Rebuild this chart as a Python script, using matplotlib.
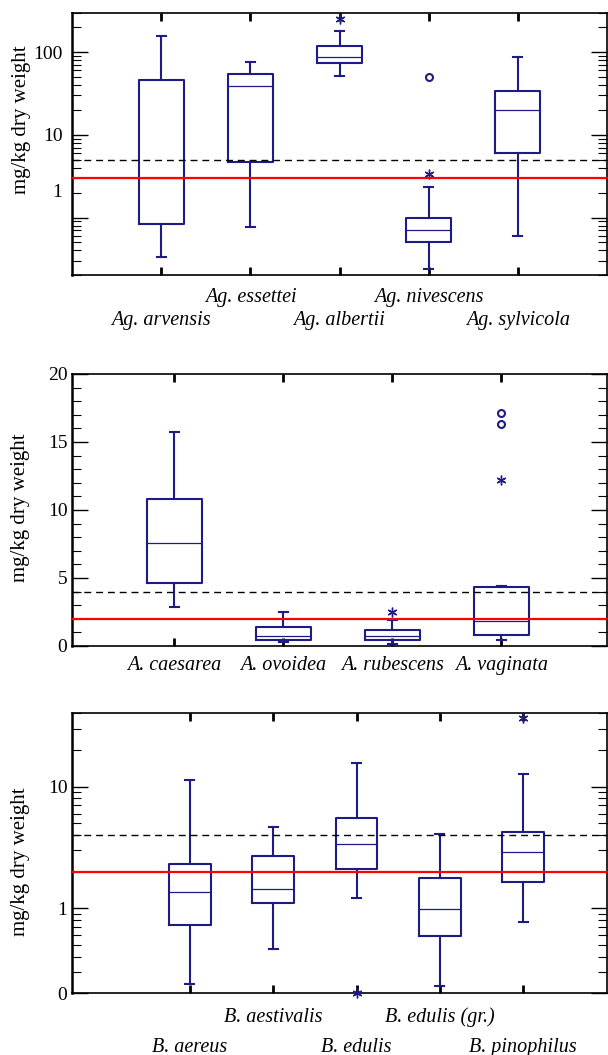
import numpy as np
import matplotlib
matplotlib.use('Agg')
import matplotlib.pyplot as plt
from matplotlib.ticker import FixedLocator, LogLocator, NullFormatter, MultipleLocator

plt.rcParams['font.family'] = ['Liberation Serif', 'DejaVu Serif']

# Agaricus
ag_names = ['Ag. arvensis', 'Ag. essettei', 'Ag. albertii', 'Ag. nivescens', 'Ag. sylvicola']
ag_whislo = [0.33, 0.76, 52, 0.24, 0.59]
ag_q1 = [0.83, 4.7, 73, 0.50, 6.1]
ag_med = [3.0, 39.5, 88, 0.70, 19.8]
ag_q3 = [46.6, 55, 119, 0.99, 33.5]
ag_whishi = [158, 75, 181, 2.33, 87]
ag_star = [[], [], [249], [3.4], []]
ag_circ = [[], [], [], [50], []]
ag_limit = 3.0
ag_dashed = 5.0

# Amanita
am_names = ['A. caesarea', 'A. ovoidea', 'A. rubescens', 'A. vaginata']
am_whislo = [2.84, 0.32, 0.17, 0.42]
am_q1 = [4.63, 0.44, 0.44, 0.79]
am_med = [7.55, 0.71, 0.76, 1.82]
am_q3 = [10.78, 1.37, 1.15, 4.36]
am_whishi = [15.7, 2.5, 1.91, 4.43]
am_star = [[], [], [2.52], [12.2]]
am_circ = [[], [], [], [16.3, 17.1]]
am_limit = 2.0
am_dashed = 4.0

# Boletus
bo_names = ['B. aereus', 'B. aestivalis', 'B. edulis', 'B. edulis (gr.)', 'B. pinophilus']
bo_whislo = [0.24, 0.46, 1.21, 0.23, 0.77]
bo_q1 = [0.73, 1.10, 2.09, 0.59, 1.63]
bo_med = [1.35, 1.43, 3.35, 0.98, 2.91]
bo_q3 = [2.32, 2.67, 5.5, 1.78, 4.25]
bo_whishi = [11.3, 4.61, 15.7, 4.09, 12.8]
bo_star = [[], [], [0.2], [], [36.8]]
bo_circ = [[], [], [], [], []]
bo_limit = 2.0
bo_dashed = 4.0

NAVY = '#1c1c84'
W, H = 608, 1055
fig = plt.figure(figsize=(W / 100, H / 100), dpi=100)


def px_axes(left, top, right, bottom):
    return fig.add_axes([left / W, 1 - bottom / H, (right - left) / W, (bottom - top) / H])


def draw_panel(ax, names, whislo, q1, med, q3, whishi, star, circ, limit, dashed, capw):
    pos = np.arange(1, len(names) + 1)
    stats = []
    for i in range(len(names)):
        stats.append(dict(med=med[i], q1=q1[i], q3=q3[i], whislo=whislo[i],
                          whishi=whishi[i], fliers=[]))
    ax.bxp(stats, positions=pos, widths=0.5, capwidths=capw, showfliers=False,
           boxprops=dict(color=NAVY, lw=1.5),
           whiskerprops=dict(color=NAVY, lw=1.5),
           capprops=dict(color=NAVY, lw=1.5),
           medianprops=dict(color=NAVY, lw=0.9))
    for p, vals in zip(pos, star):
        if vals:
            ax.plot([p] * len(vals), vals, linestyle='none', marker=(6, 2, 0), ms=7,
                    mec=NAVY, mew=1.0, clip_on=False, zorder=5)
    for p, vals in zip(pos, circ):
        if vals:
            ax.plot([p] * len(vals), vals, linestyle='none', marker='o', ms=5,
                    mfc='none', mec=NAVY, mew=1.5, clip_on=False, zorder=5)
    ax.axhline(dashed, color='black', lw=1.0, dashes=(5, 3.5), zorder=6)
    ax.axhline(limit, color='#ff0000', lw=1.6, zorder=7)
    ax.set_xticks(pos)
    ax.set_xticklabels([])
    ax.tick_params(axis='x', direction='in', top=True, bottom=True, length=6, width=2.0)
    ax.tick_params(axis='y', which='major', direction='in', left=True, right=True,
                   length=11.5, width=1.0, labelsize=14)
    ax.tick_params(axis='y', which='minor', direction='in', left=True, right=True,
                   length=6.2, width=0.8)
    for side in ['top', 'right', 'bottom']:
        ax.spines[side].set_linewidth(1.2)
    ax.spines['left'].set_linewidth(1.8)
    return pos


def cat_labels(ax, pos, names, offsets):
    for p, n, off in zip(pos, names, offsets):
        ax.annotate(n, xy=(p, 0), xycoords=('data', 'axes fraction'), xytext=(0, -off),
                    textcoords='offset pixels', ha='center', va='baseline',
                    fontsize=14.5, style='italic', annotation_clip=False)


# Panel 1: Agaricus (log)
ax1 = px_axes(72.3, 12.7, 606.7, 275.3)
ax1.set_yscale('log')
p1 = draw_panel(ax1, ag_names, ag_whislo, ag_q1, ag_med, ag_q3, ag_whishi,
                ag_star, ag_circ, ag_limit, ag_dashed, 0.1)
ax1.set_xlim(0, 6)
ax1.set_ylim(0.2, 300)
ax1.yaxis.set_major_locator(FixedLocator([1, 10, 100]))
ax1.yaxis.set_minor_locator(LogLocator(base=10, subs=np.arange(2, 10)))
ax1.yaxis.set_minor_formatter(NullFormatter())
ax1.set_yticklabels(['', '10', '100'])
ax1.tick_params(axis='y', which='major', pad=7)
ax1.annotate('1', xy=(0, 2.0), xycoords=('axes fraction', 'data'), xytext=(-10, 0),
             textcoords='offset pixels', ha='right', va='center', fontsize=14,
             annotation_clip=False)
cat_labels(ax1, p1, ag_names, [49.7, 26.4, 49.7, 26.4, 49.7])
fig.text(22 / W, 1 - 120 / H, 'mg/kg dry weight', rotation=90, ha='center', va='center',
         fontsize=15)

# Panel 2: Amanita (linear)
ax2 = px_axes(72.3, 374, 606.7, 646)
p2 = draw_panel(ax2, am_names, am_whislo, am_q1, am_med, am_q3, am_whishi,
                am_star, am_circ, am_limit, am_dashed, 0.083)
ax2.set_xlim(0.065, 4.965)
ax2.set_ylim(0, 20)
ax2.yaxis.set_major_locator(MultipleLocator(5))
ax2.yaxis.set_minor_locator(MultipleLocator(1))
ax2.tick_params(axis='y', which='major', pad=3.5)
cat_labels(ax2, p2, am_names, [24, 24, 24, 24])
fig.text(21 / W, 1 - 508 / H, 'mg/kg dry weight', rotation=90, ha='center', va='center',
         fontsize=15)

# Panel 3: Boletus (log)
ax3 = px_axes(72.3, 713.3, 606.7, 993.3)
ax3.set_yscale('log')
p3 = draw_panel(ax3, bo_names, bo_whislo, bo_q1, bo_med, bo_q3, bo_whishi,
                bo_star, bo_circ, bo_limit, bo_dashed, 0.108)
ax3.set_xlim(-0.41, 6.0)
ax3.set_ylim(0.2, 40)
ax3.yaxis.set_major_locator(FixedLocator([0.2, 1, 10]))
ax3.yaxis.set_minor_locator(LogLocator(base=10, subs=np.arange(2, 10)))
ax3.yaxis.set_minor_formatter(NullFormatter())
ax3.set_yticklabels(['0', '1', '10'])
ax3.tick_params(axis='y', which='major', pad=3.5)
cat_labels(ax3, p3, bo_names, [58.4, 28.4, 58.4, 28.4, 58.4])
fig.text(21 / W, 1 - 862 / H, 'mg/kg dry weight', rotation=90, ha='center', va='center',
         fontsize=15)

fig.savefig('out.png', dpi=100)
